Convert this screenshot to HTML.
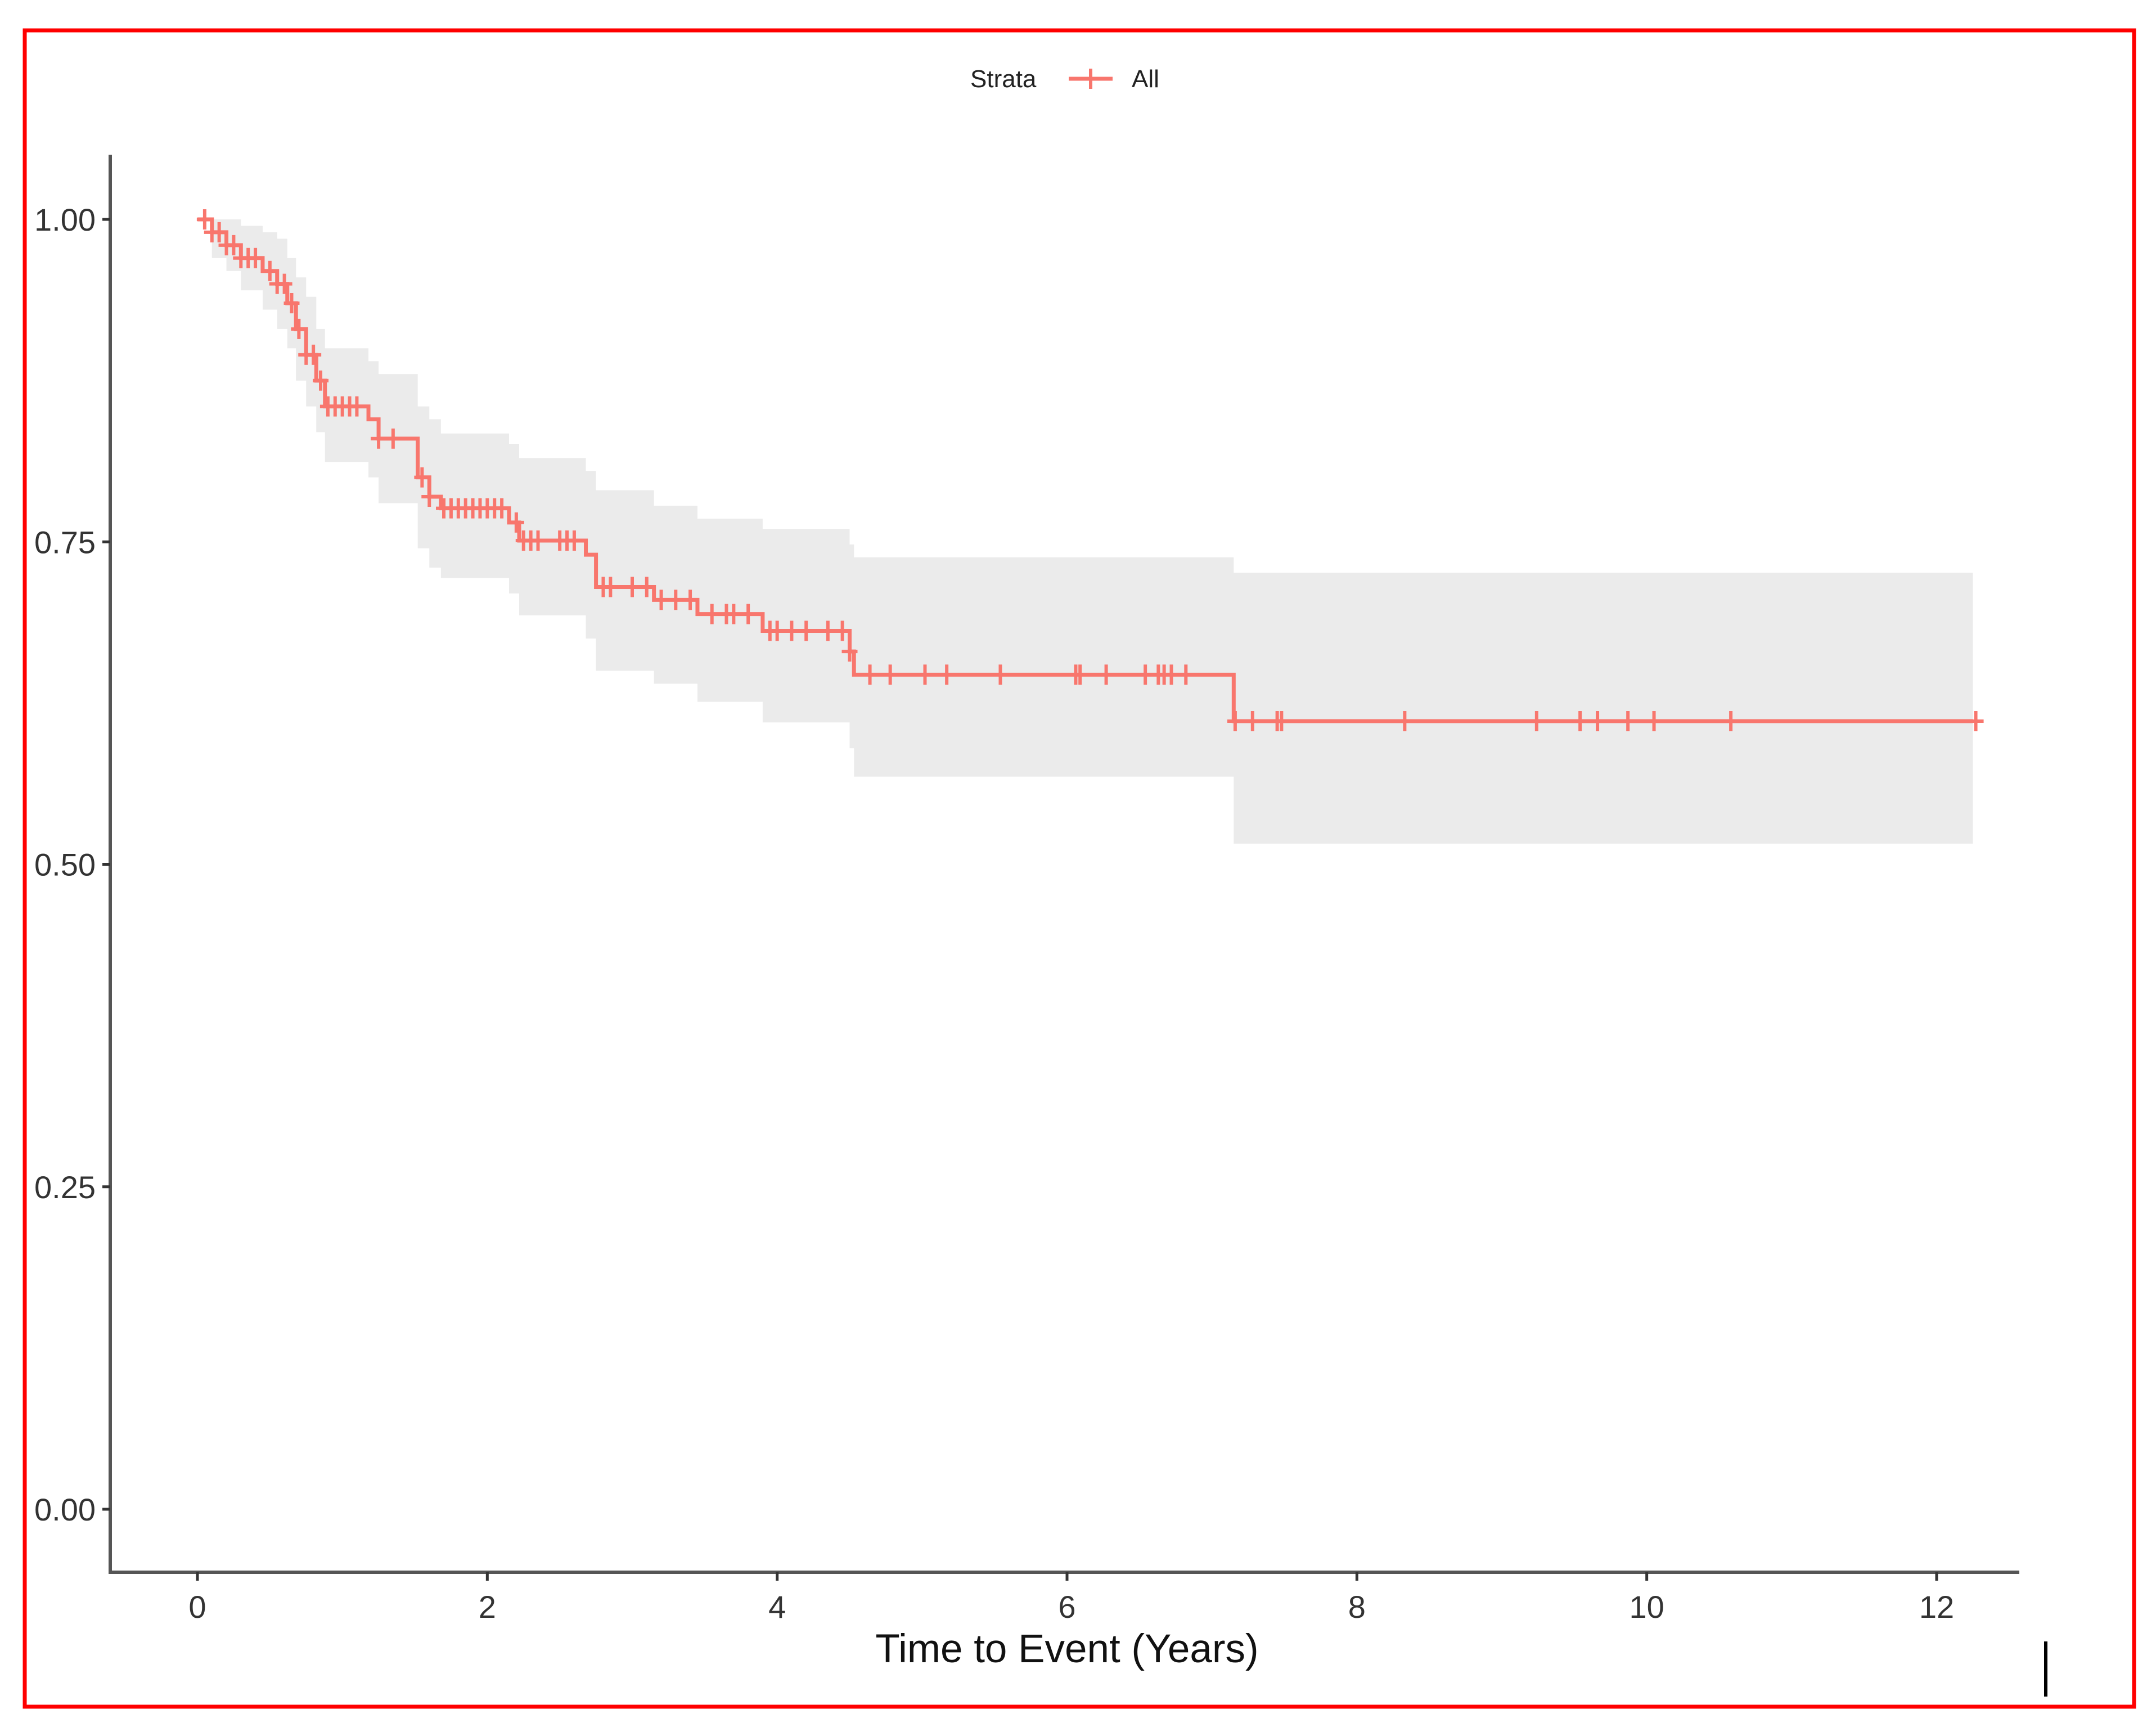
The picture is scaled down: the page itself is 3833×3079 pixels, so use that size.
<!DOCTYPE html>
<html><head><meta charset="utf-8"><style>
html,body{margin:0;padding:0;background:#fff;}
svg{display:block;font-family:"Liberation Sans",sans-serif;}
</style></head><body>
<svg id="chart" width="3833" height="3079" viewBox="0 0 3833 3079" xmlns="http://www.w3.org/2000/svg">
<rect x="44" y="54" width="3750" height="2980" fill="#fff" stroke="#ff0000" stroke-width="7"/>
<g id="ci"></g>
<g id="line"></g>
<g id="cens"></g>
<g id="axes"></g>
<g>
<text x="1725" y="155" font-size="44" fill="#222">Strata</text>
<line x1="1900" y1="140" x2="1978" y2="140" stroke="#F8766D" stroke-width="7"/>
<line x1="1939" y1="122" x2="1939" y2="158" stroke="#F8766D" stroke-width="6"/>
<text x="2012" y="155" font-size="44" fill="#222">All</text>
</g>
<text x="1897" y="2955" font-size="71" text-anchor="middle" fill="#111">Time to Event (Years)</text>
<line x1="3637" y1="2918" x2="3637" y2="3016" stroke="#000" stroke-width="6"/>
</svg>
<script>
const stepTimes = [0,0.1,0.2,0.3,0.45,0.55,0.62,0.68,0.75,0.82,0.88,1.18,1.25,1.52,1.6,1.68,2.15,2.22,2.68,2.75,3.15,3.45,3.9,4.5,4.53,7.15];
const survival = [1,0.99,0.98,0.97,0.96,0.95,0.935,0.915,0.895,0.875,0.855,0.845,0.83,0.80,0.785,0.776,0.765,0.751,0.74,0.715,0.705,0.694,0.681,0.665,0.647,0.611];
const upperCI = [1,1,1,0.995,0.99,0.985,0.97,0.955,0.94,0.915,0.90,0.89,0.88,0.855,0.845,0.834,0.826,0.815,0.805,0.79,0.778,0.768,0.760,0.748,0.738,0.726];
const lowerCI = [1,0.97,0.96,0.945,0.93,0.915,0.90,0.875,0.855,0.835,0.812,0.80,0.78,0.745,0.73,0.722,0.71,0.693,0.675,0.65,0.64,0.626,0.61,0.59,0.568,0.516];
const endTime = 12.25;
const censorTimes = [0.05,0.1,0.15,0.2,0.25,0.3,0.35,0.4,0.5,0.55,0.6,0.65,0.7,0.75,0.8,0.85,0.9,0.95,1.0,1.05,1.1,1.25,1.35,1.55,1.6,1.7,1.75,1.8,1.85,1.9,1.95,2.0,2.05,2.1,2.2,2.25,2.3,2.35,2.5,2.55,2.6,2.8,2.85,3.0,3.1,3.2,3.3,3.4,3.55,3.65,3.7,3.8,3.95,4.0,4.1,4.2,4.35,4.45,4.5,4.64,4.78,5.02,5.17,5.54,6.06,6.09,6.27,6.54,6.63,6.67,6.72,6.82,7.16,7.28,7.45,7.48,8.33,9.24,9.54,9.66,9.87,10.05,10.58,12.27];
const xTicks = [0,2,4,6,8,10,12];
const yTicks = [0,0.25,0.5,0.75,1];
const yTickLabels = ["0.00","0.25","0.50","0.75","1.00"];

const NS = "http://www.w3.org/2000/svg";
const X = t => 351 + t * (3443 - 351) / 12;
const Y = v => 2683 - (2683 - 390) * v;
function mk(tag, attrs, parent){const e=document.createElementNS(NS,tag);for(const k in attrs)e.setAttribute(k,attrs[k]);parent.appendChild(e);return e;}
function survAt(t){let s=1;for(let i=0;i<stepTimes.length;i++){if(stepTimes[i]<=t)s=survival[i];}return s;}

let up="", lo=[];
for(let i=0;i<stepTimes.length;i++){
  const x0=X(stepTimes[i]), x1=X(i+1<stepTimes.length?stepTimes[i+1]:endTime);
  up += (i===0?"M":"L")+x0+","+Y(upperCI[i])+" L"+x1+","+Y(upperCI[i])+" ";
  lo.unshift("L"+x1+","+Y(lowerCI[i])+" L"+x0+","+Y(lowerCI[i]));
}
const band = mk("path",{d:up+lo.join(" ")+" Z",fill:"#EBEBEB"},document.getElementById("ci"));



let d="";
for(let i=0;i<stepTimes.length;i++){
  const x0=X(stepTimes[i]), x1=X(i+1<stepTimes.length?stepTimes[i+1]:endTime);
  d += (i===0?"M"+x0+","+Y(survival[i]):"L"+x0+","+Y(survival[i]))+" L"+x1+","+Y(survival[i])+" ";
}
const ln = mk("path",{d:d,fill:"none",stroke:"#F8766D","stroke-width":7},document.getElementById("line"));



const cg=document.getElementById("cens");
censorTimes.forEach(t=>{
  const x=X(t), y=Y(survAt(t));
  const g=mk("g",{},cg);
  
  
  mk("line",{x1:x-14,y1:y,x2:x+14,y2:y,stroke:"#F8766D","stroke-width":6},g);
  mk("line",{x1:x,y1:y-18,x2:x,y2:y+18,stroke:"#F8766D","stroke-width":6},g);
});

const ax=document.getElementById("axes");
const yl=mk("line",{x1:196,y1:275,x2:196,y2:2798,stroke:"#555","stroke-width":6},ax);


const xl=mk("line",{x1:193,y1:2795,x2:3590,y2:2795,stroke:"#555","stroke-width":6},ax);


yTicks.forEach((v,i)=>{
  const tk=mk("line",{x1:182,y1:Y(v),x2:196,y2:Y(v),stroke:"#333","stroke-width":5},ax);
  
  
  const tx=mk("text",{x:170,y:Y(v)+20,"font-size":56,"text-anchor":"end",fill:"#333"},ax);
  tx.textContent=yTickLabels[i];
  
  
});
xTicks.forEach(v=>{
  const tk=mk("line",{x1:X(v),y1:2795,x2:X(v),y2:2810,stroke:"#333","stroke-width":5},ax);
  
  
  const tx=mk("text",{x:X(v),y:2876,"font-size":56,"text-anchor":"middle",fill:"#333"},ax);
  tx.textContent=String(v);
  
  
});
</script>
</body></html>
